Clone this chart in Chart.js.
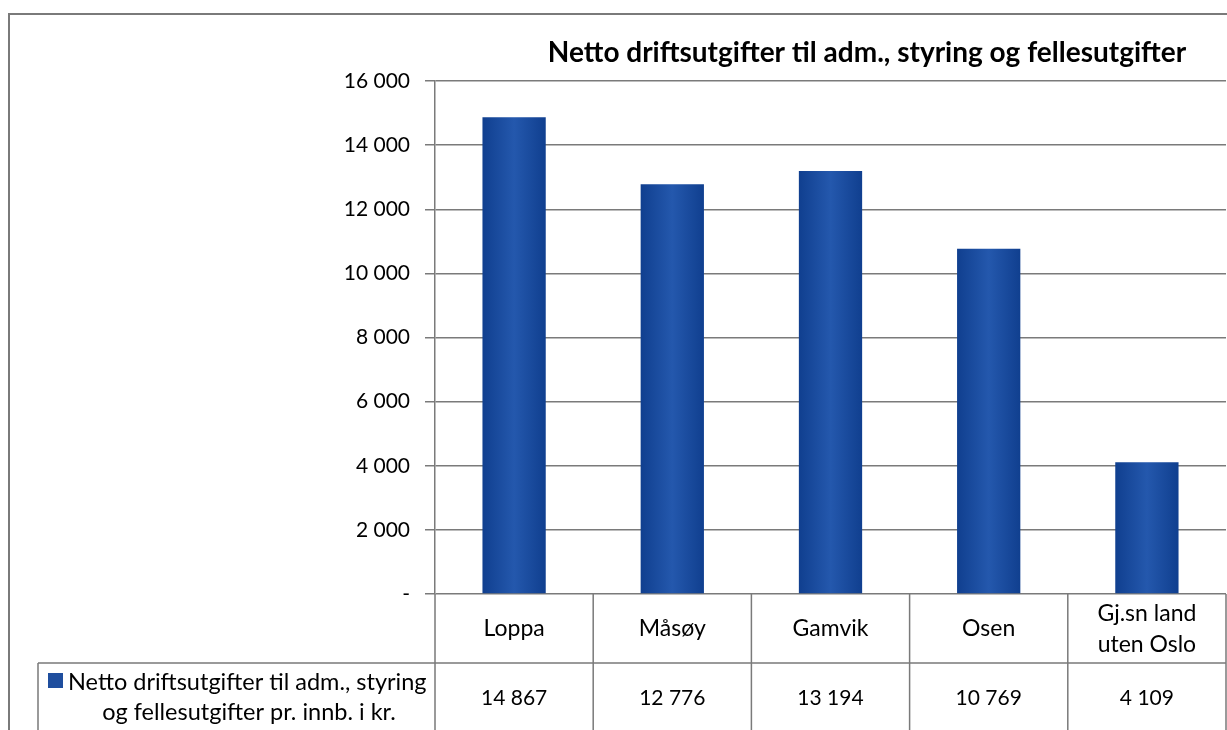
<!DOCTYPE html>
<html>
<head>
<meta charset="utf-8">
<script src="https://cdn.jsdelivr.net/npm/chart.js@4/dist/chart.umd.min.js"></script>
<style>
	html, body { margin: 0; padding: 0; background: #fff; }
	#wrap { width: 1227px; height: 730px; }
</style>
</head>
<body>
<div id="wrap"><canvas id="bar-chart" width="1227" height="730"></canvas></div>
<script>
var categories = ["Loppa", "Måsøy", "Gamvik", "Osen", "Gj.sn land|uten Oslo"];
var values = [14867, 12776, 13194, 10769, 4109];
var yTicks = [0, 2000, 4000, 6000, 8000, 10000, 12000, 14000, 16000];
var chartTitle = "Netto driftsutgifter til adm., styring og fellesutgifter";
var seriesLabel = ["Netto driftsutgifter til adm., styring", "og fellesutgifter pr. innb. i kr."];

var font = "Lato, 'Liberation Sans', sans-serif";
var lineColor = "#7a7a7a";

function fmt(v) {
	if (v === 0) return "-";
	return String(v).replace(/\B(?=(\d{3})+(?!\d))/g, " ");
}

function barFill(ctx) {
	var chart = ctx.chart;
	var area = chart.chartArea;
	if (!area) return "#1f4e9e";
	var xs = chart.scales.x;
	var cx = xs.getPixelForValue(ctx.dataIndex);
	var w = (area.right - area.left) / categories.length * 0.4;
	var g = chart.ctx.createLinearGradient(cx - w / 2, 0, cx + w / 2, 0);
	g.addColorStop(0, "#103f8f");
	g.addColorStop(0.5, "#2458ad");
	g.addColorStop(1, "#103f8f");
	return g;
}

// title, outer frame and data table under the plot
var tablePlugin = {
	id: "dataTable",
	afterDraw: function (chart) {
		var c = chart.ctx;
		var area = chart.chartArea;
		var xs = chart.scales.x;
		var n = categories.length;
		var colW = (area.right - area.left) / n;
		var row1 = area.bottom + 69;
		var bottom = chart.height;
		c.save();

		// outer frame
		c.strokeStyle = lineColor;
		c.lineWidth = 2;
		c.beginPath();
		c.moveTo(9, bottom);
		c.lineTo(9, 14);
		c.lineTo(chart.width, 14);
		c.stroke();

		// title
		c.fillStyle = "#000";
		c.font = "bold 28px " + font;
		c.textAlign = "center";
		c.textBaseline = "middle";
		c.fillText(chartTitle, 867, 53);

		// table lines
		c.lineWidth = 1.5;
		c.strokeStyle = lineColor;
		c.beginPath();
		for (var i = 0; i <= n; i++) {
			var x = area.left + colW * i;
			c.moveTo(x, area.bottom);
			c.lineTo(x, bottom);
		}
		c.moveTo(38, row1);
		c.lineTo(area.right, row1);
		c.moveTo(38, row1);
		c.lineTo(38, bottom);
		c.stroke();

		// category labels and values
		c.fillStyle = "#000";
		for (var j = 0; j < n; j++) {
			var cx = xs.getPixelForValue(j);
			var parts = categories[j].split("|");
			c.font = "23px " + font;
			if (parts.length > 1) {
				c.fillText(parts[0], cx, area.bottom + 20);
				c.fillText(parts[1], cx, area.bottom + 51);
			} else {
				c.fillText(parts[0], cx, area.bottom + 35);
			}
			c.font = "21px " + font;
			c.fillText(fmt(values[j]), cx, row1 + 35);
		}

		// legend key
		c.font = "23.5px " + font;
		c.fillStyle = "#1f4e9e";
		c.fillRect(48, row1 + 10, 15, 15);
		c.fillStyle = "#000";
		c.textAlign = "left";
		c.fillText(seriesLabel[0], 68, row1 + 19);
		c.textAlign = "center";
		c.fillText(seriesLabel[1], 249, row1 + 49);
		c.restore();
	}
};

var chart = new Chart(document.getElementById("bar-chart"), {
	type: "bar",
	data: {
		labels: categories,
		datasets: [
			{
				label: seriesLabel.join(" "),
				data: values,
				backgroundColor: barFill,
				borderWidth: 0,
				categoryPercentage: 1,
				barPercentage: 0.4
			}
		]
	},
	options: {
		responsive: false,
		animation: false,
		layout: { padding: { top: 81, right: 1, bottom: 136, left: 0 } },
		plugins: {
			legend: { display: false },
			title: { display: false },
			tooltip: { enabled: false }
		},
		scales: {
			x: { display: false },
			y: {
				min: 0,
				max: 16000,
				afterFit: function (scale) { scale.width = 435; },
				afterBuildTicks: function (scale) {
					scale.ticks = yTicks.map(function (v) { return { value: v }; });
				},
				ticks: {
					padding: 15,
					color: "#000",
					font: { family: font, size: 21 },
					callback: function (v) { return fmt(v); }
				},
				grid: {
					color: lineColor,
					lineWidth: 1.5,
					tickLength: 10
				},
				border: { color: lineColor, width: 1.5 }
			}
		}
	},
	plugins: [tablePlugin]
});
</script>
</body>
</html>
